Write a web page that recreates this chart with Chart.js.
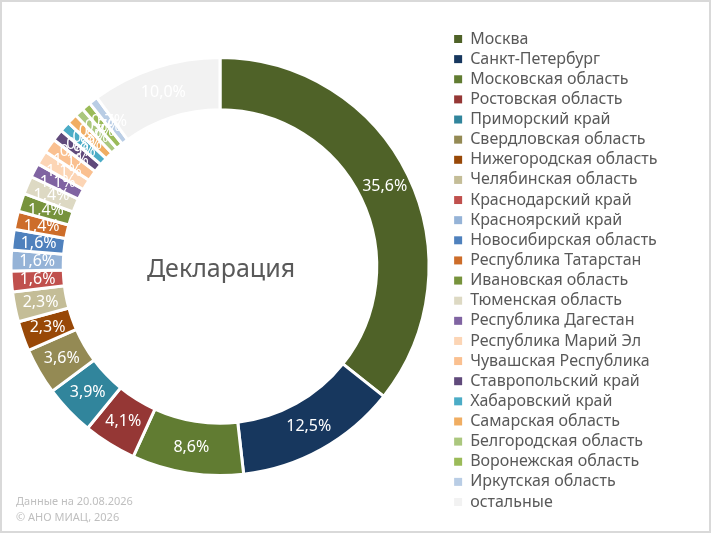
<!DOCTYPE html>
<html>
<head>
<meta charset="utf-8">
<script src="https://cdn.jsdelivr.net/npm/chart.js@4.4.1/dist/chart.umd.min.js"></script>
<style>
  html, body { margin: 0; padding: 0; background: #fff; }
  #wrap { position: relative; width: 711px; height: 533px; box-sizing: border-box; border: 2px solid #d9d9d9; overflow: hidden; }
  #chart { position: absolute; left: -2px; top: -2px; }
</style>
</head>
<body>
<div id="wrap"><canvas id="chart" width="711" height="533"></canvas></div>
<script>
const regions = [
  'Москва', 'Санкт-Петербург', 'Московская область', 'Ростовская область',
  'Приморский край', 'Свердловская область', 'Нижегородская область', 'Челябинская область',
  'Краснодарский край', 'Красноярский край', 'Новосибирская область', 'Республика Татарстан',
  'Ивановская область', 'Тюменская область', 'Республика Дагестан', 'Республика Марий Эл',
  'Чувашская Республика', 'Ставропольский край', 'Хабаровский край', 'Самарская область',
  'Белгородская область', 'Воронежская область', 'Иркутская область', 'остальные'
];
const shares = [35.6, 12.5, 8.6, 4.1, 3.9, 3.6, 2.3, 2.3, 1.6, 1.6, 1.6, 1.4,
                1.4, 1.4, 1.1, 1.1, 1.1, 0.9, 0.8, 0.8, 0.7, 0.7, 0.7, 10.0];
const colours = [
  '#4f6228', '#17375e', '#617c32', '#953735', '#31859c', '#948a54', '#984807', '#c4bd97',
  '#c0504d', '#95b3d7', '#4f81bd', '#cd6d2a', '#77933c', '#ddd9c3', '#8064a2', '#fcd5b5',
  '#fac090', '#604a7b', '#4bacc6', '#f0ad62', '#abc77e', '#9bbb59', '#b9cde5', '#f2f2f2'
];
const centerTitle = 'Декларация';
const footnote = ['Данные на 20.08.2026', '© АНО МИАЦ, 2026'];

const FONT = 'Noto Sans';
const pct = v => v.toFixed(1).replace('.', ',') + '%';

// fixed legend width so the ring sits where it does in the original
const legendPlace = {
  id: 'legendPlace',
  beforeInit(chart) {
    const fit = chart.legend.fit;
    chart.legend.fit = function () { fit.call(this); this.width = 271; };
  },
  afterLayout(chart) {
    chart.legend.left += 10;
    chart.legend.top += 4;
    chart.legend.bottom += 4;
  }
};

const sliceLabels = {
  id: 'sliceLabels',
  afterDatasetsDraw(chart) {
    const ctx = chart.ctx;
    const meta = chart.getDatasetMeta(0);
    ctx.save();
    ctx.font = `16px "${FONT}"`;
    ctx.fillStyle = '#ffffff';
    ctx.textAlign = 'center';
    ctx.textBaseline = 'middle';
    meta.data.forEach((arc, i) => {
      const p = arc.tooltipPosition();
      ctx.fillText(pct(shares[i]), p.x, p.y);
    });
    // centre caption
    const a = meta.data[0];
    ctx.fillStyle = '#595959';
    ctx.font = `25px "${FONT}"`;
    ctx.fillText(centerTitle, a.x + 1, a.y + 3);
    // footnote
    ctx.textAlign = 'left';
    ctx.fillStyle = '#bfbfbf';
    ctx.font = `11px "${FONT}"`;
    ctx.fillText(footnote[0], 16, 502);
    ctx.fillText(footnote[1], 16, 518);
    ctx.restore();
  }
};

new Chart(document.getElementById('chart'), {
  type: 'doughnut',
  data: {
    labels: regions,
    datasets: [{
      data: shares,
      backgroundColor: colours,
      borderColor: '#ffffff',
      borderWidth: 3
    }]
  },
  options: {
    responsive: false,
    animation: false,
    devicePixelRatio: 1,
    radius: 209,
    cutout: '75%',
    layout: { padding: 0 },
    plugins: {
      tooltip: { enabled: false },
      legend: {
        position: 'right',
        labels: {
          boxWidth: 8,
          boxHeight: 8,
          padding: 4.13,
          color: '#595959',
          font: { family: FONT, size: 16 },
          generateLabels(chart) {
            return Chart.overrides.doughnut.plugins.legend.labels.generateLabels(chart)
              .map(item => ({ ...item, lineWidth: 0 }));
          }
        }
      }
    }
  },
  plugins: [legendPlace, sliceLabels]
});
</script>
</body>
</html>
